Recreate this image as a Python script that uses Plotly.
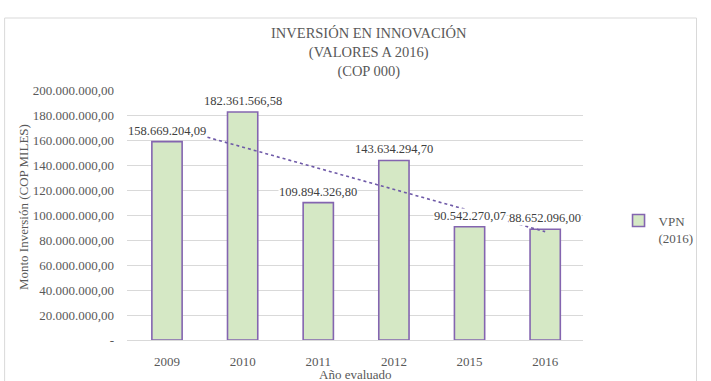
import numpy as np
import plotly.graph_objects as go

years = ["2009", "2010", "2011", "2012", "2015", "2016"]
vpn = [158669204.09, 182361566.58, 109894326.80, 143634294.70, 90542270.07, 88652096.00]
labels = ["158.669.204,09", "182.361.566,58", "109.894.326,80", "143.634.294,70", "90.542.270,07", "88.652.096,00"]
ytick_vals = [0, 20e6, 40e6, 60e6, 80e6, 100e6, 120e6, 140e6, 160e6, 180e6, 200e6]
ytick_text = ["-", "20.000.000,00", "40.000.000,00", "60.000.000,00", "80.000.000,00",
              "100.000.000,00", "120.000.000,00", "140.000.000,00", "160.000.000,00",
              "180.000.000,00", "200.000.000,00"]

# linear trendline (as Excel)
idx = np.arange(len(years))
slope, intercept = np.polyfit(idx, vpn, 1)
trend = slope * idx + intercept

FONT = "Liberation Serif"
GREY = "#595959"

fig = go.Figure()
fig.add_trace(go.Bar(
    x=years, y=vpn, name="VPN<br>(2016)",
    marker=dict(color="#d5e8c5", line=dict(color="#8465b0", width=1.6)),
    width=0.4,
))
fig.add_trace(go.Scatter(
    x=years, y=trend, mode="lines", showlegend=False,
    line=dict(color="#6f5aa8", width=1.6, dash="dot"), hoverinfo="skip",
))

for i, (v, t) in enumerate(zip(vpn, labels)):
    fig.add_annotation(x=i, y=v, text=t, showarrow=False, yanchor="bottom",
                       yshift=3, bgcolor="white", borderpad=0,
                       font=dict(family=FONT, size=12.5, color="#404040"))

# titles
fig.add_annotation(xref="paper", yref="paper", x=(372 - 127) / 462, y=(347 - 16) / 257 - 0.02,
                   text="INVERSIÓN EN INNOVACIÓN<br>(VALORES A 2016)<br>(COP 000)",
                   showarrow=False, yanchor="top", xanchor="center", align="center",
                   font=dict(family=FONT, size=14.5, color=GREY))
fig.add_annotation(xref="paper", yref="paper", x=(22 - 127) / 462, y=(347 - 210) / 257,
                   text="Monto Inversión (COP MILES)", textangle=-90, showarrow=False,
                   xanchor="center", yanchor="middle",
                   font=dict(family=FONT, size=13, color=GREY))
fig.add_annotation(xref="paper", yref="paper", x=(358 - 127) / 462, y=(347 - 376) / 257,
                   yshift=-6,
                   text="Año evaluado", showarrow=False, xanchor="center", yanchor="middle",
                   font=dict(family=FONT, size=13, color=GREY))

# chart border
fig.add_shape(type="rect", xref="paper", yref="paper",
              x0=(3 - 127) / 462, x1=(704 - 127) / 462,
              y0=(347 - 390) / 257, y1=(347 - 16) / 257,
              line=dict(color="#d9d9d9", width=1), layer="below")

fig.update_layout(
    width=711, height=381,
    margin=dict(l=127, r=122, t=90, b=34),
    paper_bgcolor="white", plot_bgcolor="white",
    font=dict(family=FONT, size=13, color=GREY),
    bargap=0.6,
    legend=dict(x=(625 - 127) / 462, y=(347 - 233) / 257, xanchor="left", yanchor="middle",
                valign="top", tracegroupgap=0, font=dict(family=FONT, size=13, color=GREY),
                bgcolor="rgba(0,0,0,0)"),
    showlegend=True,
)
fig.update_xaxes(type="category", showgrid=False, showline=True, linecolor="#d9d9d9", linewidth=1,
                 ticks="", ticklabelstandoff=9, tickfont=dict(family=FONT, size=13, color=GREY))
fig.update_yaxes(range=[0, 200e6], tickvals=ytick_vals, ticktext=ytick_text,
                 showgrid=True, gridcolor="#d9d9d9", gridwidth=1, zeroline=False,
                 ticks="", ticklabelstandoff=12, tickfont=dict(family=FONT, size=13, color=GREY))

fig.write_html("out.html")
